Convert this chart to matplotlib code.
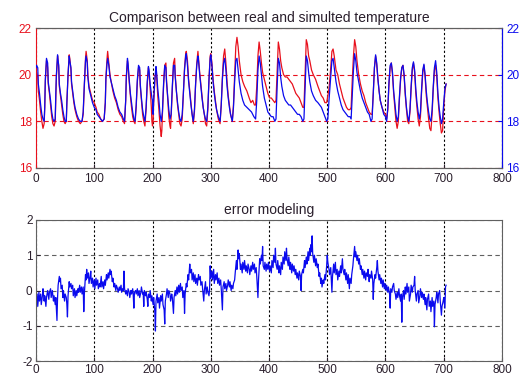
import matplotlib
matplotlib.use("Agg")
import matplotlib.pyplot as plt

plt.rcParams['font.family'] = ['Liberation Sans', 'DejaVu Sans']
plt.rcParams['axes.unicode_minus'] = False

# --- data (sample index, value) ---
real_temp = [
    (0, 20.0), (1, 20.1), (3, 19.9), (4, 19.3), (6, 18.9), (8, 18.4), (10, 18.0), (12, 17.7), (14, 17.9),
    (15, 18.6), (16, 19.7), (18, 20.6), (19, 20.5), (20, 20.3), (21, 19.6), (23, 19.2), (25, 18.7), (27, 18.2), (29, 17.9), (31, 17.8),
    (33, 18.0), (34, 19.0), (35, 19.9), (37, 20.8), (38, 20.6), (39, 20.3), (40, 19.5), (42, 19.1), (44, 18.7), (46, 18.3), (48, 18.0), (50, 17.9),
    (52, 18.0), (53, 18.8), (55, 20.0), (57, 20.85), (58, 20.7), (60, 20.2), (61, 19.6), (63, 19.2), (65, 18.8), (67, 18.5), (70, 18.2), (73, 18.0), (76, 17.9), (79, 18.0),
    (81, 18.3), (83, 19.5), (85, 20.7), (86, 21.0), (88, 20.6), (89, 20.0), (91, 19.5), (94, 19.2), (97, 18.9), (100, 18.8), (103, 18.6), (105, 18.4), (108, 18.3), (111, 18.1), (114, 18.0), (117, 18.1),
    (119, 18.8), (120, 19.9), (122, 20.7), (123, 21.0), (125, 20.5), (127, 20.0), (129, 19.7), (132, 19.3), (135, 19.0), (138, 18.8), (141, 18.5), (144, 18.3), (147, 18.2), (150, 18.0), (152, 17.9),
    (154, 18.9), (155, 19.8), (157, 20.6), (158, 20.4), (160, 19.7), (162, 19.1), (164, 18.6), (166, 18.2), (168, 18.0), (170, 17.9),
    (172, 18.6), (174, 19.7), (176, 20.3), (178, 20.2), (179, 19.5), (181, 18.9), (183, 18.3), (185, 18.0), (187, 17.8),
    (189, 18.5), (191, 19.6), (193, 20.3), (194, 20.1), (196, 19.4), (198, 18.6), (199, 18.0), (200, 17.8), (201, 18.0), (202, 18.8),
    (204, 19.7), (206, 20.2), (207, 20.0), (209, 19.1), (211, 18.5), (213, 17.8), (215, 17.35), (216, 17.6),
    (217, 18.3), (219, 19.5), (221, 20.4), (223, 20.5), (224, 19.8), (226, 19.0), (228, 18.2), (230, 17.8), (231, 17.7),
    (232, 18.2), (234, 19.4), (236, 20.5), (238, 20.7), (239, 20.0), (241, 19.3), (243, 18.7), (245, 18.3), (247, 17.9), (249, 17.8),
    (251, 18.1), (253, 19.2), (255, 20.3), (257, 20.9), (258, 21.0), (260, 20.6), (262, 19.8), (264, 19.3), (266, 18.8), (268, 18.3), (270, 17.9),
    (272, 18.4), (274, 19.6), (276, 20.5), (278, 21.0), (279, 20.7), (281, 20.1), (283, 19.6), (285, 19.1), (287, 18.6), (289, 18.3), (291, 17.9), (293, 17.8),
    (295, 18.5), (297, 19.8), (299, 20.8), (300, 20.9), (302, 20.5), (304, 19.8), (306, 19.3), (308, 18.9), (310, 18.5), (313, 18.1), (316, 17.9),
    (318, 18.7), (320, 19.9), (322, 20.8), (324, 21.1), (326, 20.5), (328, 19.7), (330, 19.1), (332, 18.7), (334, 18.3), (337, 18.0),
    (339, 18.7), (341, 20.0), (343, 21.2), (345, 21.6), (347, 21.2), (349, 20.6), (352, 20.0), (355, 19.7), (358, 19.5), (362, 19.3), (366, 19.0), (369, 18.8), (372, 18.9), (375, 18.7), (377, 18.7),
    (379, 19.5), (381, 20.8), (383, 21.4), (385, 21.0), (387, 20.5), (389, 20.1), (392, 19.8), (395, 19.5), (398, 19.2), (401, 19.0), (404, 19.0), (407, 18.9), (410, 18.8), (412, 18.9),
    (414, 20.2), (416, 21.4), (418, 21.1), (420, 20.6), (422, 20.3), (425, 20.0), (428, 19.9), (431, 19.9), (434, 19.8), (437, 19.7), (440, 19.6), (443, 19.4), (446, 19.2), (449, 19.1), (452, 19.0), (455, 18.8), (458, 18.6), (460, 18.6),
    (462, 20.0), (464, 21.5), (466, 21.3), (468, 20.8), (470, 20.6), (473, 20.2), (476, 20.0), (480, 19.8), (484, 19.5), (487, 19.3), (490, 19.1), (493, 19.0), (496, 18.8), (499, 18.8), (501, 19.1),
    (503, 19.4), (506, 20.3), (508, 21.0), (510, 21.1), (512, 20.8), (515, 20.2), (518, 20.0), (521, 19.6), (524, 19.3), (527, 19.0), (530, 18.8), (533, 18.6), (536, 18.5), (539, 18.5), (541, 18.6),
    (543, 19.8), (545, 20.8), (547, 21.5), (549, 21.2), (551, 20.6), (554, 20.0), (557, 19.6), (560, 19.3), (563, 19.1), (566, 18.8), (569, 18.6), (572, 18.4), (575, 18.3), (577, 18.3),
    (579, 19.2), (581, 20.3), (583, 20.8), (585, 20.4), (587, 19.8), (589, 19.3), (591, 18.9), (594, 18.6), (597, 18.4), (600, 18.3), (602, 18.1),
    (604, 18.5), (606, 19.6), (608, 20.3), (610, 20.5), (612, 20.0), (614, 19.2), (616, 18.6), (618, 18.0), (620, 17.7),
    (622, 18.0), (624, 19.0), (626, 19.8), (628, 20.3), (630, 20.4), (632, 19.9), (634, 19.1), (636, 18.5), (638, 18.0), (640, 17.9),
    (642, 18.4), (644, 19.4), (646, 20.2), (648, 20.5), (650, 20.1), (652, 19.2), (654, 18.6), (656, 18.1), (658, 17.8),
    (660, 18.2), (662, 19.3), (664, 20.1), (666, 20.4), (668, 19.9), (670, 19.1), (672, 18.6), (674, 18.1), (676, 17.7), (678, 17.6),
    (680, 18.3), (682, 19.4), (684, 20.2), (686, 20.4), (688, 19.9), (690, 19.0), (692, 18.4), (694, 17.9), (696, 17.5), (698, 17.6), (700, 18.6), (702, 19.3), (704, 19.6),
]

sim_temp = [
    (0, 20.3), (1, 20.4), (3, 20.3), (4, 19.6), (6, 19.2), (8, 18.7), (10, 18.3), (12, 18.1), (14, 18.0),
    (15, 18.6), (16, 19.8), (18, 20.7), (19, 20.6), (20, 20.5), (21, 19.7), (23, 19.3), (25, 18.9), (27, 18.4), (29, 18.1), (31, 18.0),
    (33, 18.1), (34, 19.2), (35, 20.0), (37, 20.85), (38, 20.6), (39, 20.4), (40, 19.6), (42, 19.2), (44, 18.9), (46, 18.5), (48, 18.2), (50, 18.0),
    (52, 18.0), (53, 18.8), (55, 20.0), (57, 20.8), (58, 20.6), (60, 20.3), (61, 19.7), (63, 19.3), (65, 18.9), (67, 18.6), (70, 18.3), (73, 18.1), (76, 18.0), (79, 18.0),
    (81, 18.4), (83, 19.6), (85, 20.6), (86, 20.8), (88, 20.5), (89, 19.9), (91, 19.4), (94, 19.1), (97, 18.8), (100, 18.6), (103, 18.5), (105, 18.3), (108, 18.2), (111, 18.1), (114, 18.0), (117, 18.1),
    (119, 18.8), (120, 19.8), (122, 20.5), (123, 20.7), (125, 20.4), (127, 19.9), (129, 19.7), (132, 19.4), (135, 19.1), (138, 18.9), (141, 18.6), (144, 18.4), (147, 18.3), (150, 18.1), (152, 18.0),
    (154, 18.9), (155, 19.9), (157, 20.7), (158, 20.5), (160, 19.8), (162, 19.2), (164, 18.8), (166, 18.4), (168, 18.1), (170, 18.0),
    (172, 18.7), (174, 19.8), (176, 20.4), (178, 20.3), (179, 19.6), (181, 19.0), (183, 18.5), (185, 18.2), (187, 18.0),
    (189, 18.6), (191, 19.7), (193, 20.35), (194, 20.2), (196, 19.6), (198, 19.2), (199, 19.0), (200, 18.9), (201, 18.3), (202, 18.9),
    (204, 19.8), (206, 20.35), (207, 20.1), (209, 19.4), (211, 18.9), (213, 18.3), (215, 18.0),
    (217, 18.4), (219, 19.6), (221, 20.4), (223, 20.3), (224, 19.7), (226, 19.1), (228, 18.5), (230, 18.1),
    (232, 18.3), (234, 19.5), (236, 20.4), (238, 20.4), (239, 19.9), (241, 19.3), (243, 18.8), (245, 18.4), (247, 18.1), (249, 18.0),
    (251, 18.3), (253, 19.2), (255, 20.2), (257, 20.8), (258, 20.9), (260, 20.4), (262, 19.7), (264, 19.2), (266, 18.7), (268, 18.3), (270, 18.0),
    (272, 18.5), (274, 19.6), (276, 20.4), (278, 20.8), (279, 20.6), (281, 20.0), (283, 19.5), (285, 19.0), (287, 18.6), (289, 18.3), (291, 18.1), (293, 18.0),
    (295, 18.6), (297, 19.8), (299, 20.7), (300, 20.85), (302, 20.4), (304, 19.7), (306, 19.2), (308, 18.8), (310, 18.5), (313, 18.2), (316, 18.0),
    (318, 18.7), (320, 19.8), (322, 20.5), (324, 20.7), (326, 20.2), (328, 19.5), (330, 19.0), (332, 18.6), (334, 18.3), (337, 18.0),
    (339, 18.6), (341, 19.7), (343, 20.6), (345, 20.7), (347, 20.2), (349, 19.7), (352, 19.2), (355, 18.9), (358, 18.7), (362, 18.6), (366, 18.5), (370, 18.4), (374, 18.2), (377, 18.1),
    (379, 18.9), (381, 20.2), (383, 20.8), (385, 20.5), (387, 20.0), (389, 19.5), (392, 19.0), (395, 18.7), (398, 18.4), (401, 18.3), (404, 18.2), (407, 18.2), (410, 18.0), (412, 18.1),
    (414, 19.5), (416, 20.7), (418, 20.5), (420, 19.9), (422, 19.5), (425, 19.1), (428, 18.9), (431, 18.8), (434, 18.7), (437, 18.7), (440, 18.6), (443, 18.5), (446, 18.4), (449, 18.3), (452, 18.3), (455, 18.2), (458, 18.0), (460, 18.1),
    (462, 19.4), (464, 20.8), (466, 20.6), (468, 20.1), (470, 19.7), (473, 19.3), (476, 19.1), (480, 18.9), (484, 18.8), (487, 18.7), (490, 18.6), (493, 18.4), (496, 18.2), (499, 18.0), (501, 18.1),
    (503, 18.9), (506, 19.9), (508, 20.6), (510, 20.7), (512, 20.3), (515, 19.7), (518, 19.3), (521, 19.0), (524, 18.7), (527, 18.5), (530, 18.4), (533, 18.3), (536, 18.2), (539, 18.2), (541, 18.1),
    (543, 19.2), (545, 20.2), (547, 20.9), (549, 20.6), (551, 20.1), (554, 19.7), (557, 19.3), (560, 19.0), (563, 18.8), (566, 18.6), (569, 18.4), (572, 18.3), (575, 18.0), (577, 18.1),
    (579, 19.2), (581, 20.3), (583, 20.85), (585, 20.5), (587, 19.8), (589, 19.3), (591, 18.9), (594, 18.6), (597, 18.3), (600, 18.2), (602, 18.0),
    (604, 18.6), (606, 19.7), (608, 20.4), (610, 20.5), (612, 20.1), (614, 19.3), (616, 18.8), (618, 18.3), (620, 18.0),
    (622, 18.2), (624, 19.1), (626, 19.9), (628, 20.3), (630, 20.4), (632, 20.0), (634, 19.2), (636, 18.6), (638, 18.2), (640, 18.0),
    (642, 18.5), (644, 19.5), (646, 20.3), (648, 20.55), (650, 20.2), (652, 19.4), (654, 18.8), (656, 18.4), (658, 18.1),
    (660, 18.4), (662, 19.4), (664, 20.2), (666, 20.45), (668, 20.0), (670, 19.3), (672, 18.8), (674, 18.4), (676, 18.1), (678, 18.0),
    (680, 18.5), (682, 19.5), (684, 20.3), (686, 20.6), (688, 20.1), (690, 19.2), (692, 18.6), (694, 18.2), (696, 17.9), (698, 18.1), (700, 18.8), (702, 19.4), (704, 19.6),
]

model_error = [
    (0, -0.35), (2, -0.1), (3, -0.45), (5, -0.05), (6, -0.3), (8, -0.1), (9, -0.4), (11, -0.15), (12, 0.05), (14, -0.3),
    (15, -0.15), (17, -0.45), (18, -0.2), (20, 0.0), (22, -0.25), (23, -0.05), (25, 0.05), (26, -0.2), (28, 0.0), (30, -0.3),
    (31, -0.15), (33, -0.4), (34, -0.2), (36, -0.85), (37, -0.2), (38, 0.15), (40, 0.4), (41, 0.25), (42, 0.35), (43, 0.05),
    (45, 0.15), (46, -0.2), (47, 0.0), (49, -0.3), (50, -0.1), (52, -0.2), (53, -0.4), (54, -0.75), (55, -0.15), (57, 0.25),
    (58, 0.1), (60, 0.2), (61, 0.05), (63, 0.15), (64, -0.15), (66, 0.05), (67, -0.2), (69, 0.0), (70, -0.15), (72, 0.05),
    (73, -0.05), (75, 0.15), (76, -0.05), (78, 0.1), (79, -0.1), (81, 0.1), (82, -0.6), (83, -0.1), (85, 0.45), (86, 0.3),
    (87, 0.6), (88, 0.35), (90, 0.5), (91, 0.2), (93, 0.4), (94, 0.55), (95, 0.2), (97, 0.35), (98, 0.1), (100, 0.3),
    (101, 0.05), (103, 0.35), (104, 0.15), (106, 0.3), (107, 0.05), (109, 0.2), (110, 0.1), (112, 0.4), (113, 0.1), (115, 0.25),
    (116, 0.05), (118, 0.3), (119, 0.15), (121, 0.45), (122, 0.3), (124, 0.5), (125, 0.35), (127, 0.6), (128, 0.45), (129, 0.55),
    (131, 0.25), (132, 0.35), (134, 0.1), (135, 0.2), (137, 0.0), (138, 0.15), (140, 0.05), (141, -0.05), (143, 0.1), (144, 0.0),
    (146, 0.15), (147, -0.05), (149, 0.05), (150, 0.0), (151, 0.55), (152, 0.05), (154, -0.1), (155, 0.0), (157, -0.15), (158, 0.05),
    (160, -0.05), (161, -0.2), (163, 0.0), (164, -0.1), (166, 0.05), (167, -0.15), (168, -0.5), (169, -0.05), (171, 0.0), (172, -0.1),
    (174, 0.05), (175, -0.15), (177, 0.0), (178, -0.2), (180, -0.05), (181, 0.1), (183, -0.1), (184, -0.05), (185, -0.45), (186, 0.0),
    (188, -0.15), (189, -0.05), (191, -0.25), (192, -0.45), (193, -0.1), (195, -0.2), (196, 0.0), (198, -0.3), (199, -0.15), (201, -0.4),
    (202, -0.2), (204, -0.6), (205, -1.15), (206, -0.3), (208, -0.1), (209, -0.35), (211, -0.2), (212, -0.5), (214, -0.15), (215, -0.3),
    (217, -0.1), (218, -0.4), (220, -0.55), (221, -0.95), (222, -0.3), (224, -0.1), (225, 0.05), (227, -0.2), (228, 0.0), (230, -0.1),
    (231, -0.3), (233, -0.1), (234, -0.2), (236, -0.65), (237, -0.2), (239, 0.0), (240, -0.15), (242, 0.1), (243, -0.1), (245, 0.15),
    (246, -0.05), (248, 0.2), (249, 0.0), (251, 0.1), (252, -0.2), (254, 0.0), (255, -0.65), (256, -0.1), (258, 0.2), (259, 0.1),
    (261, 0.45), (262, 0.3), (264, 0.75), (265, 0.5), (267, 0.6), (268, 0.3), (270, 0.5), (271, 0.25), (273, 0.45), (274, 0.2),
    (276, 0.35), (277, 0.15), (279, 0.45), (280, 0.3), (282, 0.4), (283, 0.15), (285, 0.25), (286, 0.05), (288, -0.3), (289, 0.0),
    (291, 0.25), (292, -0.1), (294, 0.1), (295, -0.05), (297, -0.15), (298, 0.05), (299, 0.7), (300, 0.35), (302, 0.55), (303, 0.3),
    (305, 0.6), (306, 0.2), (308, 0.45), (309, 0.3), (311, 0.5), (312, 0.2), (314, 0.35), (315, 0.15), (317, 0.3), (318, 0.05),
    (320, -0.55), (321, 0.1), (323, 0.25), (324, 0.05), (326, 0.2), (327, 0.0), (329, 0.15), (330, 0.3), (332, 0.1), (333, 0.25),
    (335, 0.0), (336, 0.15), (338, 0.05), (339, 0.2), (341, 0.3), (342, 0.5), (344, 0.85), (345, 0.6), (347, 1.15), (348, 0.9),
    (349, 1.05), (351, 0.6), (352, 0.75), (354, 0.5), (355, 0.8), (357, 0.6), (358, 0.85), (360, 0.55), (361, 0.7), (363, 0.5),
    (364, 0.75), (366, 0.6), (367, 0.45), (369, 0.7), (370, 0.55), (372, 0.8), (373, 0.6), (375, 0.75), (376, 0.5), (378, 0.65),
    (379, 0.4), (381, -0.2), (382, 0.3), (384, 0.9), (385, 0.75), (387, 1.0), (388, 0.85), (389, 1.25), (390, 0.7), (392, 0.6),
    (393, 0.8), (395, 0.55), (396, 0.75), (398, 0.6), (399, 0.8), (401, 0.55), (402, 0.7), (404, 0.5), (405, 0.85), (407, 0.65),
    (408, 1.0), (410, 0.8), (411, 1.2), (412, 0.75), (414, 0.6), (415, 0.85), (417, 0.5), (418, 0.7), (420, 0.45), (421, 0.8),
    (423, 0.6), (424, 0.95), (426, 0.75), (427, 1.1), (429, 0.85), (430, 1.2), (431, 0.9), (433, 0.7), (434, 0.95), (436, 0.6),
    (437, 0.8), (439, 0.5), (440, 0.75), (442, 0.55), (443, 0.7), (445, 0.45), (446, 0.6), (448, 0.35), (449, 0.5), (451, 0.3),
    (452, 0.55), (454, 0.4), (455, 0.0), (456, 0.45), (458, 0.6), (459, 0.5), (461, 0.85), (462, 0.65), (464, 0.95), (465, 0.75),
    (467, 1.1), (468, 0.85), (470, 1.2), (471, 1.0), (472, 1.3), (473, 1.1), (474, 1.55), (475, 1.05), (477, 0.8), (478, 1.0),
    (480, 0.7), (481, 0.9), (483, 0.65), (484, 0.75), (486, 0.4), (487, 0.5), (489, 0.2), (490, 0.35), (491, 0.1), (493, 0.3),
    (494, 0.2), (496, 0.45), (497, 0.3), (499, 0.7), (500, 1.0), (501, 0.8), (503, 0.6), (504, 0.45), (506, 0.65), (507, 0.3),
    (508, -0.05), (509, 0.4), (511, 0.75), (512, 0.5), (514, 0.8), (515, 0.45), (517, 0.6), (518, 0.3), (520, 0.55), (521, 0.4),
    (523, 0.7), (524, 0.5), (526, 0.9), (527, 0.6), (529, 0.45), (530, 0.6), (532, 0.3), (533, 0.5), (535, 0.2), (536, 0.45),
    (538, 0.05), (539, 0.35), (541, 0.2), (542, 0.45), (544, 0.7), (545, 0.9), (547, 1.25), (548, 0.95), (549, 1.1), (551, 0.85),
    (552, 1.0), (554, 0.75), (555, 0.9), (557, 0.6), (558, 0.7), (560, 0.45), (561, 0.6), (563, 0.35), (564, 0.55), (566, 0.3),
    (567, 0.5), (569, 0.4), (570, 0.6), (572, 0.25), (573, 0.45), (575, 0.35), (576, 0.55), (578, 0.3), (579, -0.25), (580, 0.2),
    (582, 0.45), (583, 0.35), (585, 0.65), (586, 0.85), (587, 0.55), (589, 0.3), (590, 0.45), (592, 0.2), (593, 0.35), (595, 0.1),
    (596, 0.3), (598, 0.05), (599, 0.2), (601, 0.0), (602, 0.15), (604, -0.05), (605, 0.1), (607, -0.1), (608, -0.5), (609, 0.05),
    (611, -0.05), (612, 0.1), (614, 0.2), (615, 0.0), (617, -0.1), (618, -0.25), (620, -0.05), (621, -0.2), (623, 0.05), (624, -0.15),
    (626, -0.3), (627, -0.1), (628, -0.9), (629, -0.2), (631, 0.0), (632, -0.25), (634, 0.1), (635, -0.1), (637, 0.2), (638, -0.05),
    (640, 0.1), (641, -0.3), (643, -0.1), (644, 0.15), (646, -0.05), (647, 0.1), (649, 0.15), (650, 0.4), (651, 0.0), (653, -0.3),
    (654, -0.1), (656, 0.0), (657, -0.35), (659, -0.15), (660, 0.05), (662, -0.2), (663, -0.05), (665, -0.25), (666, -0.1), (668, -0.4),
    (669, -0.2), (671, -0.55), (672, -0.25), (674, -0.1), (675, -0.45), (677, -0.3), (678, -0.6), (680, -0.2), (681, -0.45), (683, -0.3),
    (684, -1.03), (685, -0.4), (687, -0.2), (688, -0.05), (690, -0.35), (691, -0.1), (693, 0.0), (694, -0.3), (696, -0.7), (697, -0.45),
    (699, -0.3), (700, -0.2), (702, -0.5), (703, 0.1), (704, 0.15),
]

x_ticks = [0, 100, 200, 300, 400, 500, 600, 700, 800]
temp_ticks = [16, 18, 20, 22]
err_ticks = [-2, -1, 0, 1, 2]

RED = '#e8101c'
BLUE = '#0a0aee'
TXT = '#2a1f2c'
EDGE = '#606060'

real_t, real_y = zip(*real_temp)
sim_t, sim_y = zip(*sim_temp)
err_t, err_y = zip(*model_error)

fig = plt.figure(figsize=(5.28, 3.81), dpi=100)
fig.patch.set_facecolor('white')

# ---------- top panel: real vs simulated temperature ----------
ax1 = fig.add_axes([36 / 528, 1 - 168 / 381, 466 / 528, 140 / 381])
ax2 = ax1.twinx()

ax1.plot(real_t, real_y, color=RED, lw=0.9)
ax2.plot(sim_t, sim_y, color=BLUE, lw=0.9)

for ax in (ax1, ax2):
    ax.set_xlim(0, 800)
    ax.set_ylim(16, 22)
    ax.set_yticks(temp_ticks)
ax1.set_xticks(x_ticks)

ax1.xaxis.grid(True, color='black', ls=(0, (2, 2)), lw=0.8)
ax1.yaxis.grid(True, color=RED, ls=(0, (4, 3)), lw=0.8)
ax1.set_axisbelow(True)

ax1.tick_params(axis='y', colors=RED, labelsize=8.5, direction='in', length=3, pad=3)
ax2.tick_params(axis='y', colors=BLUE, labelsize=8.5, direction='in', length=3, pad=3)
ax1.tick_params(axis='x', colors=TXT, labelsize=8.5, direction='in', length=3, pad=3.5)
ax1.spines['left'].set_color(RED)
ax2.spines['right'].set_color(BLUE)
for ax in (ax1, ax2):
    ax.spines['top'].set_color(EDGE)
    ax.spines['bottom'].set_color(EDGE)
ax2.spines['left'].set_visible(False)

ax1.set_title('Comparison between real and simulted temperature', fontsize=10, color=TXT, pad=4)

# ---------- bottom panel: modelling error ----------
ax3 = fig.add_axes([36 / 528, 1 - 361 / 381, 466 / 528, 141 / 381])
ax3.plot(err_t, err_y, color=BLUE, lw=0.9)
ax3.set_xlim(0, 800)
ax3.set_ylim(-2, 2)
ax3.set_xticks(x_ticks)
ax3.set_yticks(err_ticks)
ax3.xaxis.grid(True, color='black', ls=(0, (2, 2)), lw=0.8)
ax3.yaxis.grid(True, color=EDGE, ls=(0, (4, 3)), lw=0.8)
ax3.set_axisbelow(True)
ax3.tick_params(colors=TXT, labelsize=8.5, direction='in', length=3, pad=2.5)
for s in ax3.spines.values():
    s.set_color(EDGE)
ax3.set_title('error modeling', fontsize=10, color=TXT, pad=4)

fig.savefig('out.png', dpi=100)
